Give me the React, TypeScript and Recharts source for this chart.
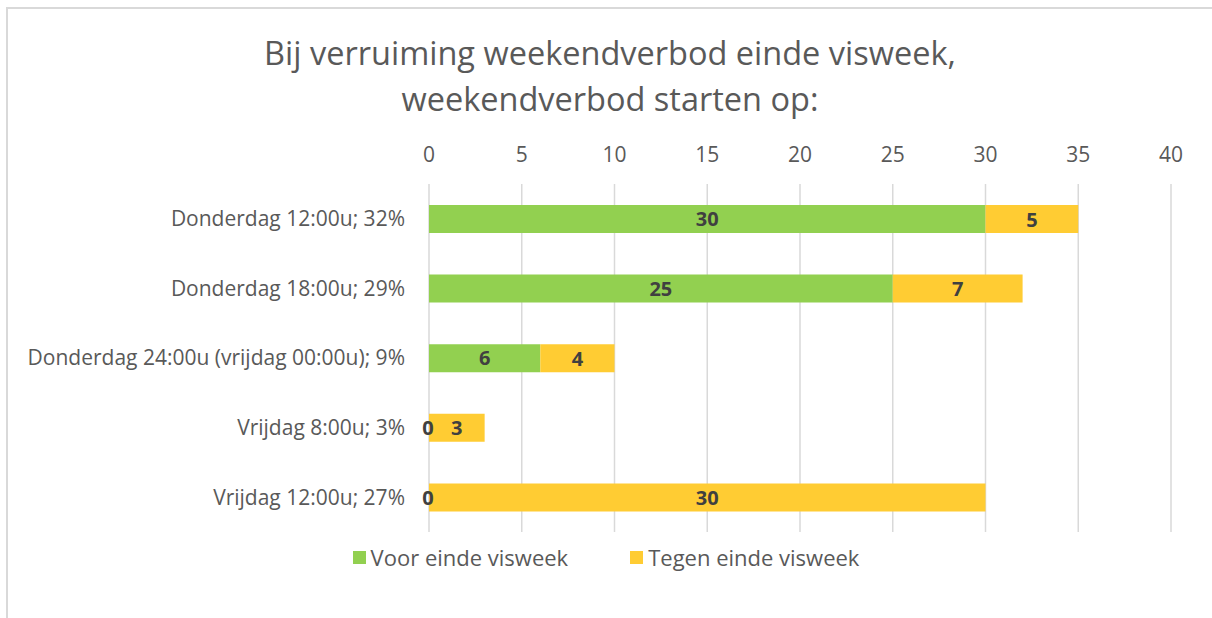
import React from 'react';
import { BarChart, Bar, XAxis, YAxis, CartesianGrid, LabelList } from 'recharts';

const categories = [
  'Donderdag 12:00u; 32%',
  'Donderdag 18:00u; 29%',
  'Donderdag 24:00u (vrijdag 00:00u); 9%',
  'Vrijdag 8:00u; 3%',
  'Vrijdag 12:00u; 27%',
];
const voor = [30, 25, 6, 0, 0];
const tegen = [5, 7, 4, 3, 30];
const xTicks = [0, 5, 10, 15, 20, 25, 30, 35, 40];

const seriesNames = { voor: 'Voor einde visweek', tegen: 'Tegen einde visweek' };
const colors = { voor: '#92D050', tegen: '#FFCC33' };

const data = categories.map((name, i) => ({ name, voor: voor[i], tegen: tegen[i] }));

const FONT = '"Open Sans", sans-serif';
const TEXT = '#595959';
const LABEL = '#404040';

const labelStyle = { fontWeight: 'bold' as const, fontSize: 20, fontFamily: FONT };

// Recharts skips zero-width bars, so the "0" of the green series is drawn
// together with the yellow label, at the start of the yellow segment.
const TegenLabel = (props: any) => {
  const { x, y, width, height, value, index } = props;
  const cy = y + height / 2;
  return (
    <g>
      <text x={x + width / 2} y={cy} textAnchor="middle" dominantBaseline="central" fill={LABEL} style={labelStyle}>
        {value}
      </text>
      {voor[index] === 0 && (
        <text x={x - 1} y={cy} textAnchor="middle" dominantBaseline="central" fill={LABEL} style={labelStyle}>
          {voor[index]}
        </text>
      )}
    </g>
  );
};

export default function App() {
  return (
    <div style={{ position: 'fixed', left: 0, top: 0, width: 1212, height: 618, background: '#fff', overflow: 'hidden' }}>
      <div
        style={{
          position: 'absolute',
          left: 0,
          width: 1220,
          top: 30,
          textAlign: 'center',
          fontFamily: FONT,
          fontSize: 32.5,
          lineHeight: '46px',
          color: TEXT,
        }}
      >
        Bij verruiming weekendverbod einde visweek,
        <br />
        weekendverbod starten op:
      </div>
      <div style={{ position: 'absolute', left: 0, top: 0 }}>
        <BarChart
          width={1212}
          height={618}
          data={data}
          layout="vertical"
          barSize={28}
          margin={{ top: 154, right: 41, left: 9, bottom: 86 }}
        >
          <CartesianGrid horizontal={false} stroke="#d9d9d9" strokeWidth={1.5} />
          <XAxis
            type="number"
            orientation="top"
            domain={[0, 40]}
            ticks={xTicks}
            axisLine={false}
            tickLine={false}
            height={30}
            tick={{ fill: TEXT, fontSize: 21, fontFamily: FONT }}
            tickMargin={16}
          />
          <YAxis
            type="category"
            dataKey="name"
            width={420}
            axisLine={false}
            tickLine={false}
            tickMargin={18}
            tick={{ fill: TEXT, fontSize: 21, fontFamily: FONT }}
          />
          <Bar dataKey="voor" stackId="a" fill={colors.voor} name={seriesNames.voor} isAnimationActive={false}>
            <LabelList dataKey="voor" position="center" fill={LABEL} style={labelStyle} />
          </Bar>
          <Bar dataKey="tegen" stackId="a" fill={colors.tegen} name={seriesNames.tegen} isAnimationActive={false}>
            <LabelList dataKey="tegen" content={TegenLabel} />
          </Bar>
        </BarChart>
      </div>
      <div
        style={{
          position: 'absolute',
          top: 542,
          left: 0,
          width: 1212,
          display: 'flex',
          justifyContent: 'center',
          fontFamily: FONT,
          fontSize: 22,
          color: TEXT,
        }}
      >
        {(['voor', 'tegen'] as const).map((k, i) => (
          <div key={k} style={{ display: 'flex', alignItems: 'center', marginRight: i === 0 ? 62 : 0 }}>
            <span style={{ width: 13, height: 13, background: colors[k], marginRight: 5, display: 'inline-block' }} />
            <span>{seriesNames[k]}</span>
          </div>
        ))}
      </div>
      <div style={{ position: 'absolute', left: 6, top: 7, width: 1206, height: 2, background: '#d9d9d9', zIndex: 5 }} />
      <div style={{ position: 'absolute', left: 6, top: 7, width: 2, height: 611, background: '#d9d9d9', zIndex: 5 }} />
    </div>
  );
}
